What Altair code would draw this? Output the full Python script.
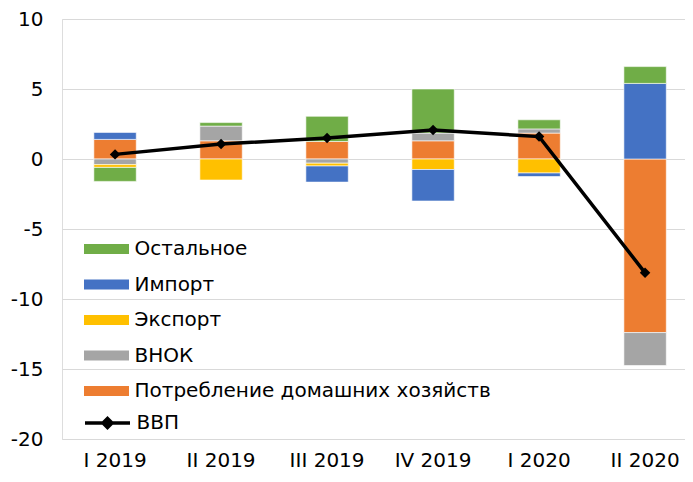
import altair as alt
import pandas as pd

quarters = ["I 2019", "II 2019", "III 2019", "IV 2019", "I 2020", "II 2020"]

# stacking order (closest to zero first)
series_names = ["Потребление домашних хозяйств", "ВНОК", "Экспорт", "Импорт", "Остальное"]
consumption = [1.4, 1.3, 1.25, 1.3, 1.85, -12.4]
vnok = [-0.4, 1.05, -0.3, 0.55, 0.3, -2.35]
export = [-0.2, -1.5, -0.2, -0.75, -1.0, 0.0]
imports = [0.5, 0.0, -1.15, -2.25, -0.25, 5.4]
other = [-1.0, 0.25, 1.8, 3.15, 0.65, 1.2]
gdp = [0.33, 1.07, 1.5, 2.07, 1.6, -8.13]

y_ticks = [-20, -15, -10, -5, 0, 5, 10]

legend_order = ["Остальное", "Импорт", "Экспорт", "ВНОК", "Потребление домашних хозяйств"]
legend_colors = ["#70AD47", "#4472C4", "#FFC000", "#A5A5A5", "#ED7D31"]

series_values = [consumption, vnok, export, imports, other]
rows = []
for i, q in enumerate(quarters):
    for k, (name, vals) in enumerate(zip(series_names, series_values)):
        rows.append({"q": q, "series": name, "value": vals[i], "ord": k})
bars_df = pd.DataFrame(rows)
gdp_df = pd.DataFrame({"q": quarters, "series": ["ВВП"] * len(quarters), "value": gdp})

FONT = "DejaVu Sans"
FS = 20

x_enc = alt.X(
    "q:N",
    sort=quarters,
    title=None,
    scale=alt.Scale(paddingInner=0.6, paddingOuter=0.2385, align=0.63),
    axis=alt.Axis(labelAngle=0, domain=False, ticks=False, grid=False,
                  labelFontSize=FS, labelPadding=11, labelColor="#000000", labelFont=FONT),
)

y_scale = alt.Scale(domain=[-20, 10], nice=False, zero=False)

bars = alt.Chart(bars_df).transform_filter("datum.value != 0").mark_bar(
    stroke="white", strokeWidth=0.6
).encode(
    x=x_enc,
    y=alt.Y("value:Q", stack="zero", scale=y_scale,
            axis=alt.Axis(values=y_ticks, title=None, domain=False,
                          labelExpr="'' + datum.value",
                          ticks=False, labelFontSize=FS, labelPadding=19, grid=True,
                          gridColor="#d9d9d9", gridWidth=1, labelColor="#000000", labelFont=FONT)),
    color=alt.Color("series:N",
                    scale=alt.Scale(domain=legend_order, range=legend_colors),
                    legend=alt.Legend(orient="none", legendX=34.5, legendY=220, title=None,
                                      symbolType="M-2.5,-0.56H2.5V0.56H-2.5Z", symbolSize=324,
                                      symbolStrokeWidth=0, labelFontSize=FS, labelOffset=18,
                                      rowPadding=15.5, padding=0, labelLimit=0,
                                      labelColor="#000000", labelFont=FONT)),
    order=alt.Order("ord:Q", sort="ascending"),
)

line = alt.Chart(gdp_df).mark_line(
    strokeWidth=3.5,
    point=alt.OverlayMarkDef(shape="diamond", size=110, filled=True, color="black"),
).encode(
    x=x_enc,
    y=alt.Y("value:Q", scale=y_scale),
    color=alt.Color("series:N",
                    scale=alt.Scale(domain=["ВВП"], range=["black"]),
                    legend=alt.Legend(orient="none", legendX=34.5, legendY=393, title=None,
                                      symbolType="M-2.5,0H2.5M-0.5,0L0,-0.5L0.5,0L0,0.5Z",
                                      symbolSize=324, symbolStrokeWidth=3.5,
                                      symbolFillColor="black", symbolStrokeColor="black",
                                      labelFontSize=FS, labelOffset=18, padding=0,
                                      labelColor="#000000", labelFont=FONT)),
)

chart = alt.layer(bars, line).resolve_scale(color="independent").properties(
    width=623,
    height=420,
    autosize=alt.AutoSizeParams(type="none"),
    padding={"left": 54, "top": 11, "right": 0, "bottom": 35},
).configure_view(stroke=None).configure(font=FONT)

chart.save("out.html", embed_options={"renderer": "svg", "actions": False})
